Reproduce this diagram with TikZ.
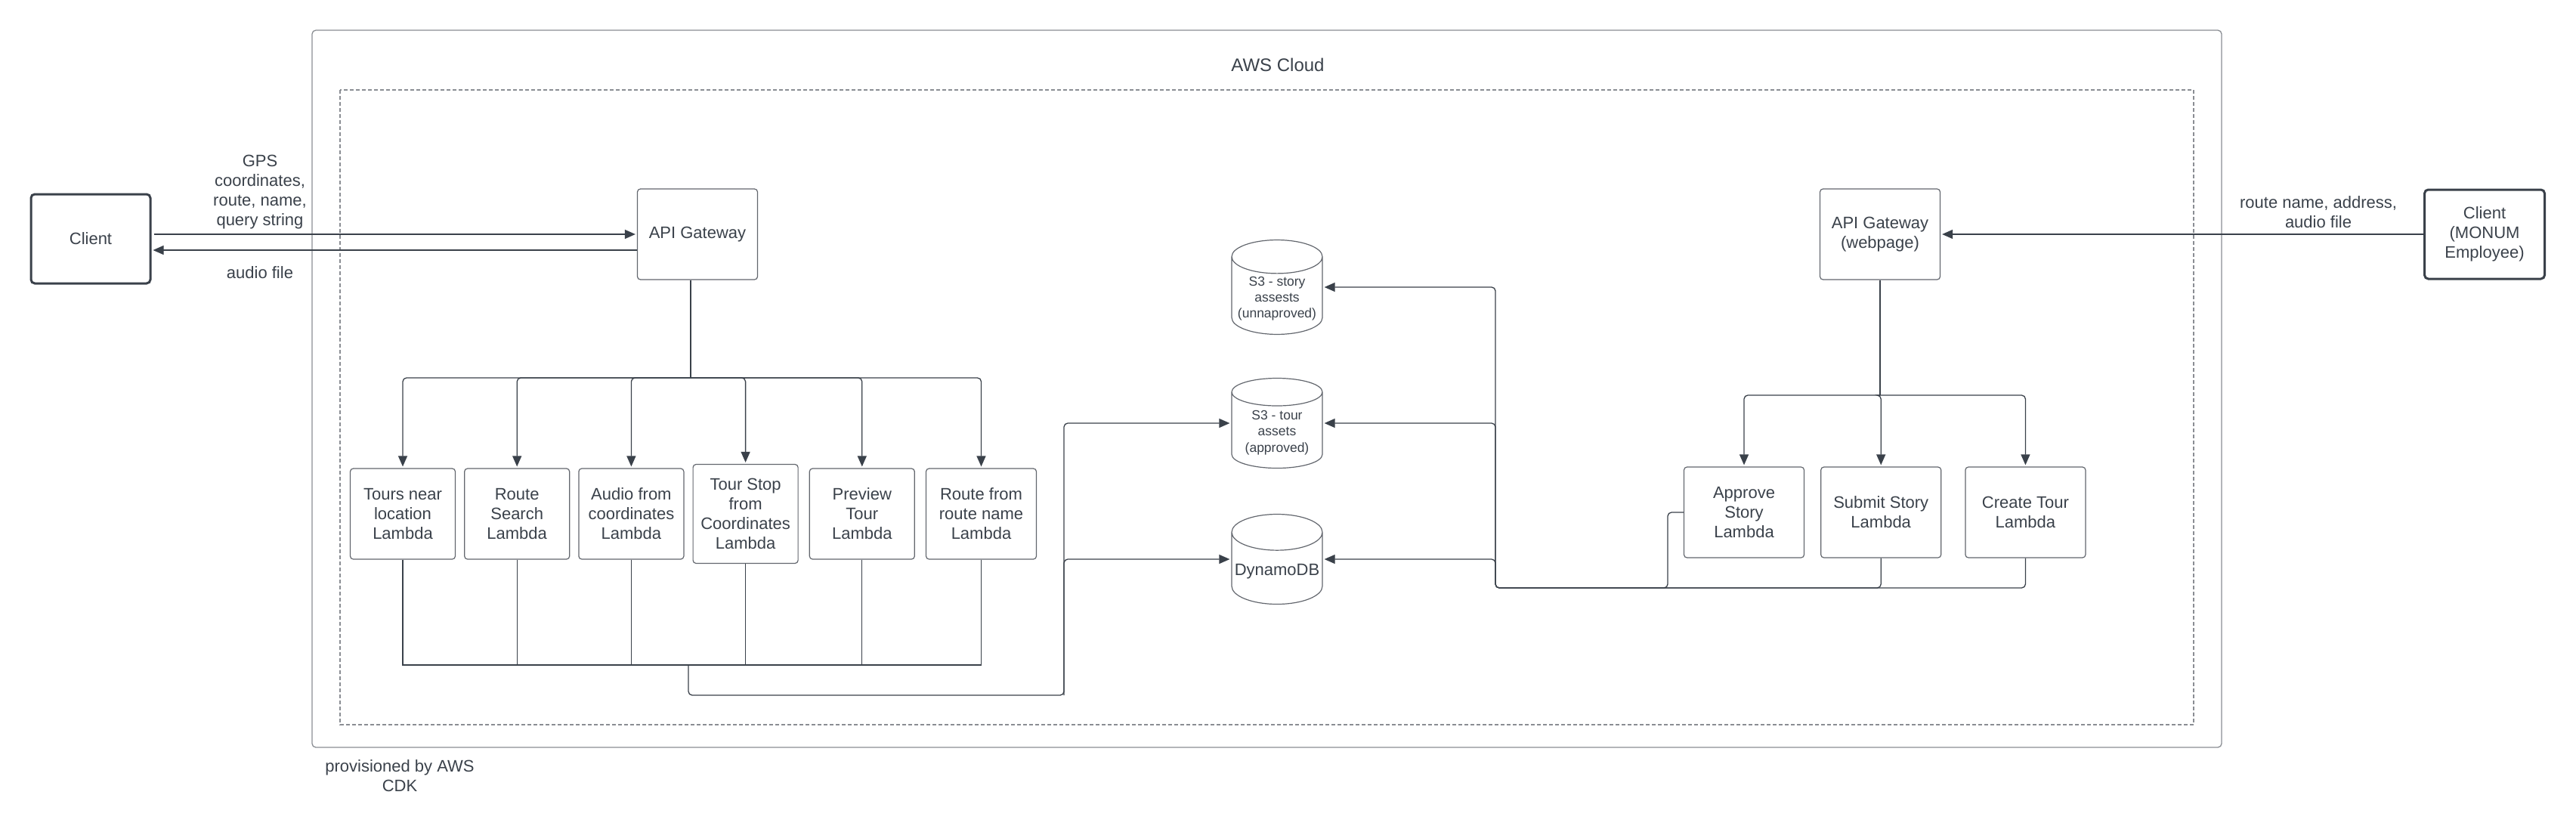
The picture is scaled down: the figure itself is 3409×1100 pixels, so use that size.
\documentclass[tikz,border=0pt]{standalone}
\usepackage{fontspec}
\setmainfont{Liberation Sans}
\usepackage{tikz}
\usetikzlibrary{arrows.meta}
\usetikzlibrary{positioning}
\usetikzlibrary{shapes.geometric}
\definecolor{ink}{HTML}{3A414A}
\definecolor{edge}{HTML}{62666D}
\definecolor{frame}{HTML}{8A8D93}
\begin{document}
\begin{tikzpicture}[x=1pt, y=-1pt, font=\fontsize{22}{26}\selectfont, text=ink,
    box/.style={draw=edge, line width=1.2pt, rounded corners=4pt, align=center,
      minimum width=159pt, minimum height=120pt, inner xsep=5pt, inner ysep=14pt},
    lambda/.style={box, minimum width=139pt},
    client/.style={draw=ink, line width=3pt, rounded corners=5pt, align=center,
      minimum width=158pt, minimum height=118pt},
    store/.style={cylinder, shape border rotate=90, aspect=0.4, draw=edge,
      line width=1.2pt, minimum width=120pt, minimum height=119pt, align=center,
      anchor=shape center, font=\fontsize{17.5}{21.3}\selectfont},
    wire/.style={draw=ink, line width=1.3pt},
    arr/.style={wire, -{Triangle[length=14pt, width=12pt]}, shorten >=2pt}]
    \useasboundingbox (0,0) rectangle (3409,1100);

    \draw[draw=frame, line width=1.3pt, rounded corners=5pt] (413,40) rectangle (2940,989);
    \draw[draw=frame, line width=1.2pt, dash pattern=on 5pt off 3pt] (450,119) rectangle (2903,959);
    \node[font=\fontsize{24}{28}\selectfont] (cloud) at (1691,86) {AWS Cloud};
    \node[align=center] (cdk) at (529,1027) {provisioned by AWS\\CDK};

    \node[client] (client) at (120,316) {Client};
    \node[box] (api) at (923,310) {API Gateway};
    \node[align=center] (request) at (344,254) {GPS\\coordinates,\\route, name,\\query string};
    \node (reply) at (344,361) {audio file};

    \node[lambda] (tours) at (533,680) {Tours near\\location\\Lambda};
    \node[lambda, right=11pt of tours] (search) {Route\\Search\\Lambda};
    \node[lambda, right=11pt of search] (audio) {Audio from\\coordinates\\Lambda};
    \node[lambda, minimum height=131pt, right=11pt of audio] (stop) {Tour Stop\\from\\Coordinates\\Lambda};
    \node[lambda, right=14pt of stop] (preview) {Preview\\Tour\\Lambda};
    \node[lambda, minimum width=146pt, right=14pt of preview] (routename) {Route from\\route name\\Lambda};

    \node[store] (story) at (1690,380) {S3 - story\\assests\\(unnaproved)};
    \node[store] (tour) at (1690,560) {S3 - tour\\assets\\(approved)};
    \node[store, font=\fontsize{22}{26}\selectfont] (dynamo) at (1690,740) {DynamoDB};

    \node[box] (web) at (2488,310) {API Gateway\\(webpage)};
    \node[client, minimum width=159pt] (employee) at (3288,310) {Client\\(MONUM\\Employee)};
    \node[align=center] (upload) at (3068,281) {route name, address,\\audio file};

    \node[box] (approve) at (2308,678) {Approve\\Story\\Lambda};
    \node[box, right=21pt of approve] (submit) {Submit Story\\Lambda};
    \node[box, right=31pt of submit] (create) {Create Tour\\Lambda};

    \coordinate (fanL) at (914,500);
    \coordinate (joinL) at (911,880);
    \coordinate (trunkL) at (1408,920);
    \coordinate (fanR) at (2488,523);
    \coordinate (jogR) at (2207,778);
    \coordinate (trunkR) at (1979,778);

    \draw[arr, shorten <=3pt] (client.east |- api.west) -- (api.west);
    \draw[arr] ([yshift=-21pt]api.west) -- ([yshift=-21pt]api.west -| client.east);
    \draw[arr] (employee.west) -- (web.east);

    \draw[wire] ([xshift=-9pt]api.south) -- (fanL);
    \foreach \n in {tours,search,audio,stop,preview,routename}
      \draw[arr, rounded corners=5pt] (fanL) -| (\n.north);
    \foreach \n in {tours,search,audio,stop,preview,routename}
      \draw[wire] (\n.south) |- (joinL);
    \draw[arr, rounded corners=5pt] (joinL) |- (trunkL) |- (tour.west |- tour.shape center);
    \draw[arr, rounded corners=5pt] (trunkL) |- (dynamo.west |- dynamo.shape center);

    \draw[wire] (web.south) -- (fanR);
    \foreach \n in {approve,submit,create}
      \draw[arr, rounded corners=5pt] (fanR) -| (\n.north);
    \draw[arr, rounded corners=5pt] (approve.west) -| (jogR) -- (trunkR) |- (story.east |- story.shape center);
    \draw[arr, rounded corners=5pt] (submit.south) |- (trunkR) |- (dynamo.east |- dynamo.shape center);
    \draw[arr, rounded corners=5pt] (create.south) |- (trunkR) |- (tour.east |- tour.shape center);
\end{tikzpicture}
\end{document}
